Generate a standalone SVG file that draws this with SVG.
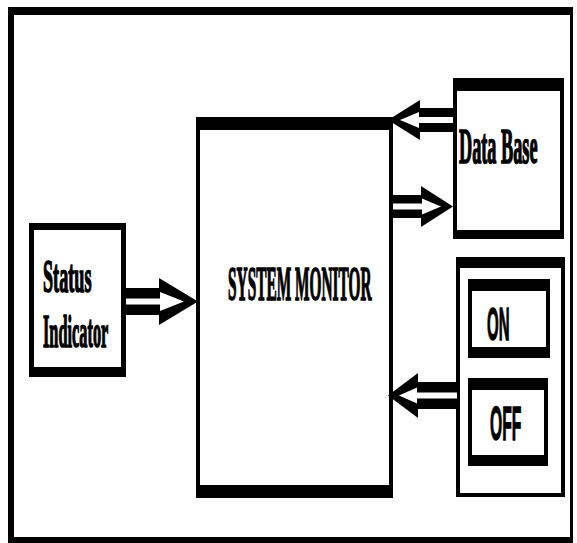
<svg xmlns="http://www.w3.org/2000/svg" width="577" height="543" viewBox="0 0 577 543">
<style>
.b{fill:#000}
.w{fill:#fff}
.t{font-family:"Liberation Serif","Times New Roman",serif;font-weight:bold;fill:#000;stroke:#000;stroke-width:1.6}
.s{font-family:"Liberation Sans",Arial,sans-serif;font-weight:bold;fill:#000;stroke:#000;stroke-width:1.4}
</style>
<rect x="0" y="0" width="577" height="543" fill="#fff"/>
<g id="frame">
<rect class="b" x="8" y="7" width="565" height="8"/>
<rect class="b" x="8" y="7" width="6" height="536"/>
<rect class="b" x="8" y="537" width="565" height="6"/>
<rect class="b" x="570" y="7" width="3" height="536"/>
</g>
<g id="system-monitor">
<rect class="b" x="196" y="117" width="197" height="381"/>
<rect class="w" x="200" y="130" width="189" height="355"/>
<text class="t" font-size="48" transform="translate(228,300) scale(0.32,1)">SYSTEM MONITOR</text>
</g>
<g id="data-base">
<rect class="b" x="453" y="78" width="111" height="161"/>
<rect class="w" x="457" y="91" width="103" height="139"/>
<text class="t" font-size="50" transform="translate(459,163) scale(0.365,1)">Data Base</text>
</g>
<g id="status-indicator">
<rect class="b" x="29" y="223" width="97" height="154"/>
<rect class="w" x="34" y="230" width="87" height="137"/>
<text class="t" font-size="46" transform="translate(43,292) scale(0.395,1)">Status</text>
<text class="t" font-size="46" transform="translate(43,347) scale(0.355,1)">Indicator</text>
</g>
<g id="switch-panel">
<rect class="b" x="456" y="257" width="109" height="240"/>
<rect class="w" x="460" y="268" width="101" height="225"/>
</g>
<g id="on">
<rect class="b" x="468" y="279" width="82" height="79"/>
<rect class="w" x="472" y="291" width="74" height="56"/>
<text class="s" font-size="47" transform="translate(487,340) scale(0.32,1)">ON</text>
</g>
<g id="off">
<rect class="b" x="468" y="378" width="80" height="88"/>
<rect class="w" x="472" y="390" width="72" height="65"/>
<text class="s" font-size="49" transform="translate(490,440) scale(0.32,1)">OFF</text>
</g>
<g id="connectors">
<g>
<path class="b" d="M126,288 H159 V278 L198,301.5 L159,325 V315 H126 Z"/>
<path class="w" d="M126,298.5 H160 V292 L184,301.5 L160,311 V304.5 H126 Z"/>
</g>
<g>
<path class="b" d="M453,108 H420 V100 L388,120 L420,140 V132 H453 Z"/>
<path class="w" d="M453,117 H419 V112 L400,120 L419,128 V123 H453 Z"/>
</g>
<g>
<path class="b" d="M393,195 H421 V186 L453,206.5 L421,227 V218 H393 Z"/>
<path class="w" d="M393,203.5 H422 V198.5 L441,206.5 L422,214.5 V209.5 H393 Z"/>
</g>
<g>
<path class="b" d="M457,382 H418 V373 L388,395.5 L418,418 V409 H457 Z"/>
<path class="w" d="M457,392.5 H417 V387.5 L399,395.5 L417,403.5 V398.5 H457 Z"/>
</g>
</g>
</svg>
